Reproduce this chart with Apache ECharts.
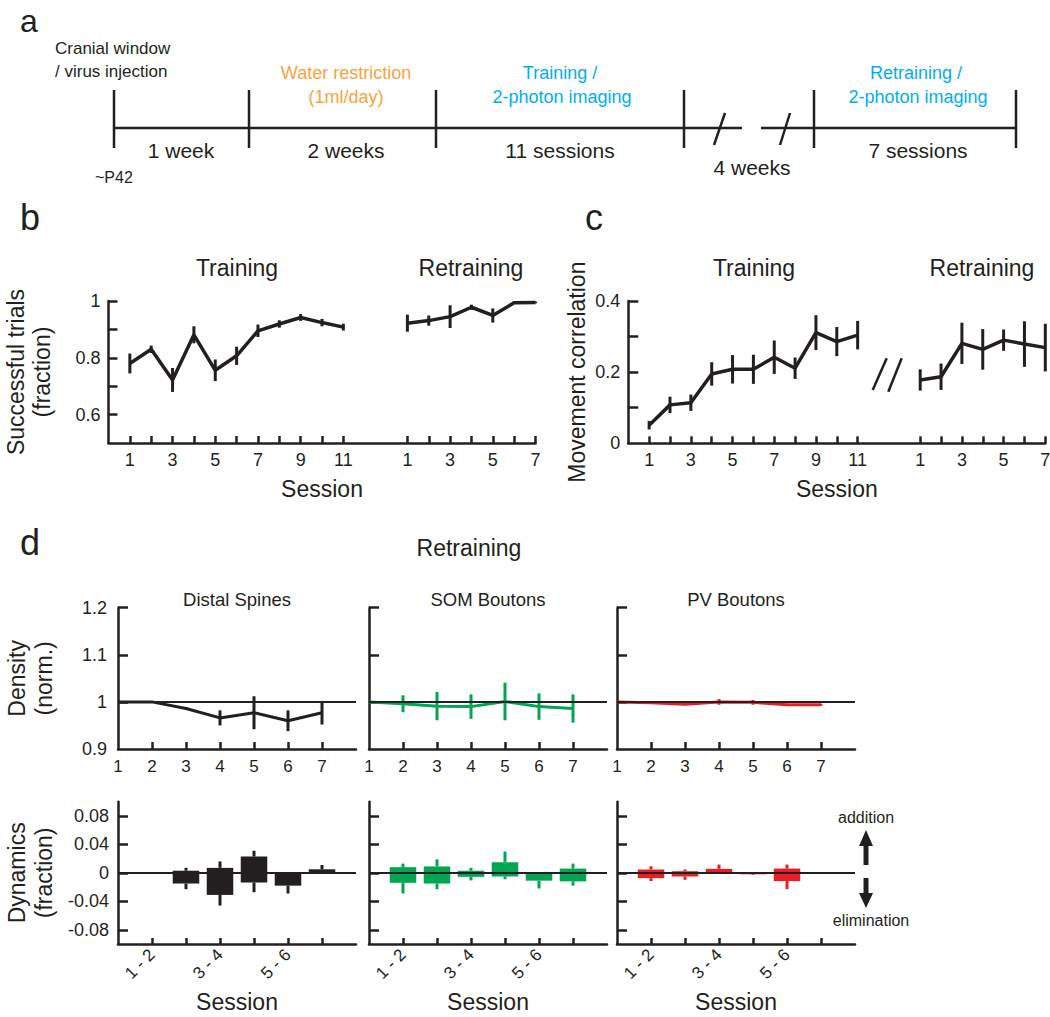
<!DOCTYPE html>
<html><head><meta charset="utf-8">
<script src="https://cdn.jsdelivr.net/npm/echarts@6/dist/echarts.min.js"></script>
<style>html,body{margin:0;padding:0;background:#fff}#c{width:1050px;height:1017px}</style>
</head><body><div id="c"></div><script>
// ---------------- DATA ----------------
const trainSessions = [1,2,3,4,5,6,7,8,9,10,11];
const retrainSessions = [1,2,3,4,5,6,7];
const trainTickLabels = [1,3,5,7,9,11];
const retrainTickLabels = [1,3,5,7];

const successTrain    = [0.780,0.830,0.722,0.881,0.756,0.807,0.895,0.919,0.942,0.924,0.908];
const successTrainErr = [0.035,0.013,0.042,0.030,0.038,0.032,0.022,0.013,0.012,0.013,0.012];
const successRetrain    = [0.922,0.931,0.945,0.978,0.949,0.994,0.995];
const successRetrainErr = [0.030,0.018,0.040,0.009,0.025,0.004,0.003];

const corrTrain    = [0.051,0.108,0.114,0.195,0.208,0.208,0.242,0.211,0.311,0.286,0.304];
const corrTrainErr = [0.012,0.023,0.023,0.033,0.040,0.041,0.047,0.030,0.049,0.041,0.040];
const corrRetrain    = [0.178,0.187,0.281,0.264,0.290,0.279,0.269];
const corrRetrainErr = [0.030,0.037,0.058,0.057,0.030,0.064,0.067];

const densitySessions = [1,2,3,4,5,6,7];
const distalDensity    = [1.000,1.000,0.986,0.966,0.977,0.960,0.977];
const distalDensityErr = [0,0,0.003,0.016,0.035,0.022,0.025];
const somDensity    = [1.000,0.996,0.991,0.990,1.001,0.990,0.986];
const somDensityErr = [0,0.018,0.030,0.026,0.040,0.028,0.030];
const pvDensity    = [1.000,0.998,0.995,1.000,0.999,0.994,0.994];
const pvDensityErr = [0,0.002,0.002,0.006,0.005,0.002,0.002];

// transitions: bar drawn at the later session of each pair
const transitionEnd = [2,3,4,5,6,7];
const transitionLabelAt = [2,4,6];
const distalAdd     = [0,0.003,0.007,0.023,0.000,0.005];
const distalAddErr  = [0,0.004,0.009,0.008,0,0.006];
const distalElim    = [0,-0.015,-0.031,-0.0136,-0.018,-0.001];
const distalElimErr = [0,0.008,0.015,0.0136,0.011,0];
const somAdd     = [0.008,0.009,0.003,0.015,0,0.006];
const somAddErr  = [0.005,0.010,0.004,0.015,0,0.007];
const somElim    = [-0.014,-0.015,-0.0056,-0.005,-0.011,-0.012];
const somElimErr = [0.015,0.008,0.005,0.004,0.011,0.006];
const pvAdd     = [0.0047,0.0023,0.0056,0,0.006,0];
const pvAddErr  = [0.0046,0.0024,0.006,0,0.0056,0];
const pvElim    = [-0.0074,-0.0051,-0.0003,-0.002,-0.0116,0];
const pvElimErr = [0.0042,0.0047,0,0.001,0.0114,0];

const densityTicks = [0.9,1,1.1,1.2];
const dynamicsTicks = [-0.08,-0.04,0,0.04,0.08];
const subplotTitles = ['Distal Spines','SOM Boutons','PV Boutons'];
const stageDurations = ['1 week','2 weeks','11 sessions','4 weeks','7 sessions'];

// ---------------- STYLE ----------------
const FF = '"Liberation Sans", Arial, Helvetica, sans-serif';
const INK = '#231f20', GREEN = '#00a651', RED = '#ed1c24', ORANGE = '#f8a33c', BLUE = '#00aeef';
const RETRAIN_OFFSET = 13;   // gap of two empty slots between phases
const BAR_W = 0.78;

function errBar(color, width){
  return function(params, api){
    const x = api.value(0), y = api.value(1), e = api.value(2);
    if (!e) return null;
    const a = api.coord([x, y + e]), b = api.coord([x, y - e]);
    return {type:'line', shape:{x1:a[0],y1:a[1],x2:b[0],y2:b[1]}, style:{stroke:color,lineWidth:width}};
  };
}
function dynBar(color){
  return function(params, api){
    const x = api.value(0), add = api.value(1), addE = api.value(2), elim = api.value(3), elimE = api.value(4);
    const w = api.size([BAR_W, 0])[0];
    const top = api.coord([x, add]), bot = api.coord([x, elim]);
    const ch = [];
    if (bot[1]-top[1] > 0.2) ch.push({type:'rect', shape:{x:top[0]-w/2,y:top[1],width:w,height:bot[1]-top[1]}, style:{fill:color}});
    if (addE > 0){ const p = api.coord([x, add+addE]); ch.push({type:'line', shape:{x1:top[0],y1:top[1],x2:p[0],y2:p[1]}, style:{stroke:color,lineWidth:3}}); }
    if (elimE > 0){ const p = api.coord([x, elim-elimE]); ch.push({type:'line', shape:{x1:bot[0],y1:bot[1],x2:p[0],y2:p[1]}, style:{stroke:color,lineWidth:3}}); }
    return {type:'group', children:ch};
  };
}
function axisBase(){
  return {
    axisLine:{show:true,onZero:false,lineStyle:{color:INK,width:2.5}},
    axisTick:{show:true,inside:true,length:7,lineStyle:{color:INK,width:2.5}},
    axisLabel:{color:INK,fontFamily:FF,fontSize:18,margin:8},
    splitLine:{show:false},
    nameTextStyle:{color:INK,fontFamily:FF}
  };
}

// ---------------- LAYOUT ----------------
const dLefts = [118, 369, 617];
const grids = [
  {left:108.5, top:301, width:427, height:142},
  {left:628.3, top:301, width:417, height:142.3}
];
dLefts.forEach(l => grids.push({left:l, top:607.7, width:238, height:141.3}));
dLefts.forEach(l => grids.push({left:l, top:801.7, width:238, height:142.3}));
grids.forEach(g => { g.outerBoundsMode = 'none'; g.containLabel = false; });

const xAxes = [], yAxes = [];
const allSessionTicks = trainSessions.concat(retrainSessions.map(s => s + RETRAIN_OFFSET));
const allSessionLabels = trainTickLabels.concat(retrainTickLabels.map(s => s + RETRAIN_OFFSET));
const sessFmt = v => v > trainSessions.length ? String(v - RETRAIN_OFFSET) : String(v);

// panel b and c
[0,1].forEach(gi => {
  const xa = axisBase();
  Object.assign(xa, {type:'value', gridIndex:gi, min:0, max:20, interval:1,
    name:'Session', nameLocation:'middle', nameGap:34});
  xa.axisTick.customValues = allSessionTicks;
  xa.axisLabel.customValues = allSessionLabels;
  xa.axisLabel.formatter = sessFmt;
  xa.axisLabel.fontSize = 18;
  xa.nameTextStyle.fontSize = 23;
  xAxes.push(xa);
});
{
  const ya = axisBase();
  Object.assign(ya, {type:'value', gridIndex:0, min:0.5, max:1,
    name:'Successful trials\n(fraction)', nameLocation:'middle', nameRotate:90, nameGap:54});
  ya.axisTick.customValues = [0.6,0.7,0.8,0.9,1];
  ya.axisTick.length = 9;
  ya.axisLabel.customValues = [0.6,0.8,1];
  ya.axisLabel.formatter = v => String(v);
  ya.nameTextStyle.fontSize = 23; ya.nameTextStyle.lineHeight = 26;
  yAxes.push(ya);
}
{
  const ya = axisBase();
  Object.assign(ya, {type:'value', gridIndex:1, min:0, max:0.4,
    name:'Movement correlation', nameLocation:'middle', nameRotate:90, nameGap:40});
  ya.axisTick.customValues = [0.1,0.2,0.3,0.4];
  ya.axisTick.length = 10;
  ya.axisLabel.customValues = [0,0.2,0.4];
  ya.axisLabel.formatter = v => String(v);
  ya.nameTextStyle.fontSize = 23;
  yAxes.push(ya);
}
// density
[0,1,2].forEach(k => {
  const gi = 2 + k;
  const xa = axisBase();
  Object.assign(xa, {type:'value', gridIndex:gi, min:1, max:8, interval:1});
  xa.axisTick.customValues = densitySessions.slice(1);
  xa.axisLabel.customValues = densitySessions;
  xa.axisLabel.formatter = v => String(v);
  xa.axisLabel.fontSize = 17; xa.axisLabel.margin = 9;
  xAxes.push(xa);
  const ya = axisBase();
  Object.assign(ya, {type:'value', gridIndex:gi, min:0.9, max:1.2, interval:0.1});
  ya.axisTick.customValues = densityTicks.slice(1);
  ya.axisTick.length = 10;
  ya.axisLabel.customValues = densityTicks;
  ya.axisLabel.formatter = v => String(v);
  ya.axisLabel.margin = 11;
  if (k > 0) ya.axisLabel.show = false;
  else { ya.name = 'Density\n(norm.)'; ya.nameLocation = 'middle'; ya.nameRotate = 90; ya.nameGap = 61;
         ya.nameTextStyle.fontSize = 23; ya.nameTextStyle.lineHeight = 27; }
  yAxes.push(ya);
});
// dynamics
[0,1,2].forEach(k => {
  const gi = 5 + k;
  const xa = axisBase();
  Object.assign(xa, {type:'value', gridIndex:gi, min:1, max:8, interval:1,
    name:'Session', nameLocation:'middle', nameGap:46});
  xa.axisTick.customValues = transitionEnd;
  xa.axisTick.length = 6;
  xa.axisLabel.customValues = transitionLabelAt;
  xa.axisLabel.formatter = v => (v-1) + ' - ' + v;
  xa.axisLabel.rotate = 45; xa.axisLabel.fontSize = 17; xa.axisLabel.margin = 8;
  xa.nameTextStyle.fontSize = 23;
  xAxes.push(xa);
  const ya = axisBase();
  Object.assign(ya, {type:'value', gridIndex:gi, min:-0.1, max:0.1});
  ya.axisTick.customValues = dynamicsTicks;
  ya.axisTick.length = 10;
  ya.axisLabel.customValues = dynamicsTicks;
  ya.axisLabel.formatter = v => v === 0 ? '0' : v.toFixed(2);
  ya.axisLabel.margin = 9;
  if (k > 0) ya.axisLabel.show = false;
  else { ya.name = 'Dynamics\n(fraction)'; ya.nameLocation = 'middle'; ya.nameRotate = 90; ya.nameGap = 61;
         ya.nameTextStyle.fontSize = 23; ya.nameTextStyle.lineHeight = 27; }
  yAxes.push(ya);
});

// ---------------- SERIES ----------------
const series = [];
function lineSeries(gi, pts, color, width, z){
  return {type:'line', xAxisIndex:gi, yAxisIndex:gi, data:pts, symbol:'none', silent:true,
    lineStyle:{color:color, width:width}, z:z||3, animation:false};
}
function errSeries(gi, pts, color, width){
  return {type:'custom', xAxisIndex:gi, yAxisIndex:gi, data:pts, renderItem:errBar(color, width),
    encode:{x:0, y:1}, silent:true, z:4, animation:false};
}
function refSeries(gi, yVal, z){
  return {type:'line', xAxisIndex:gi, yAxisIndex:gi, data:[], z:z,
    markLine:{silent:true, symbol:'none', animation:false, label:{show:false},
      lineStyle:{color:INK, width:2, type:'solid'}, data:[{yAxis:yVal}]}};
}
// b
series.push(lineSeries(0, trainSessions.map((s,i)=>[s, successTrain[i]]), INK, 3.5));
series.push(lineSeries(0, retrainSessions.map((s,i)=>[s+RETRAIN_OFFSET, successRetrain[i]]), INK, 3.5));
series.push(errSeries(0, trainSessions.map((s,i)=>[s, successTrain[i], successTrainErr[i]]), INK, 3));
series.push(errSeries(0, retrainSessions.map((s,i)=>[s+RETRAIN_OFFSET, successRetrain[i], successRetrainErr[i]]), INK, 3));
// c
series.push(lineSeries(1, trainSessions.map((s,i)=>[s, corrTrain[i]]), INK, 3.5));
series.push(lineSeries(1, retrainSessions.map((s,i)=>[s+RETRAIN_OFFSET, corrRetrain[i]]), INK, 3.5));
series.push(errSeries(1, trainSessions.map((s,i)=>[s, corrTrain[i], corrTrainErr[i]]), INK, 3));
series.push(errSeries(1, retrainSessions.map((s,i)=>[s+RETRAIN_OFFSET, corrRetrain[i], corrRetrainErr[i]]), INK, 3));
// density
const dens = [[distalDensity,distalDensityErr,INK],[somDensity,somDensityErr,GREEN],[pvDensity,pvDensityErr,RED]];
dens.forEach((d,k) => {
  const gi = 2 + k;
  series.push(refSeries(gi, 1, 1));
  series.push(lineSeries(gi, densitySessions.map((s,i)=>[s, d[0][i]]), d[2], 3, 3));
  series.push(errSeries(gi, densitySessions.map((s,i)=>[s, d[0][i], d[1][i]]), d[2], 3));
});
// dynamics
const dyn = [[distalAdd,distalAddErr,distalElim,distalElimErr,INK],[somAdd,somAddErr,somElim,somElimErr,GREEN],[pvAdd,pvAddErr,pvElim,pvElimErr,RED]];
dyn.forEach((d,k) => {
  const gi = 5 + k;
  series.push({type:'custom', xAxisIndex:gi, yAxisIndex:gi, renderItem:dynBar(d[4]), silent:true, z:2, animation:false,
    encode:{x:0, y:[1,3]},
    data: transitionEnd.map((t,i)=>[t, d[0][i], d[1][i], d[2][i], d[3][i]])});
  series.push(refSeries(gi, 0, 5));
});

// ---------------- GRAPHIC (labels, schematic) ----------------
const g = [];
function txt(x, y, text, size, color, align){
  g.push({type:'text', x:x, y:y, silent:true,
    style:{text:text, fontSize:size, fontFamily:FF, fill:color||INK, align:align||'center', verticalAlign:'middle'}});
}
function ln(x1,y1,x2,y2,w,color){
  g.push({type:'line', silent:true, shape:{x1:x1,y1:y1,x2:x2,y2:y2}, style:{stroke:color||INK, lineWidth:w||2.5}});
}
// panel letters
txt(20, 21, 'a', 32, INK, 'left');
txt(20, 217, 'b', 36, INK, 'left');
txt(585, 217, 'c', 36, INK, 'left');
txt(20, 542, 'd', 36, INK, 'left');
// timeline
const tlTicks = [114, 249, 436, 684, 814, 1016];
tlTicks.forEach(x => ln(x, 90, x, 148, 2.5));
ln(114, 128, 742, 128, 2.5);
ln(761, 128, 1016, 128, 2.5);
ln(714, 145, 725, 113, 2.5);
ln(780, 145, 790, 113, 2.5);
txt(55, 48, 'Cranial window', 17, INK, 'left');
txt(55, 71, '/ virus injection', 17, INK, 'left');
txt(346, 73, 'Water restriction', 18, ORANGE);
txt(346, 97, '(1ml/day)', 18, ORANGE);
txt(560, 73, 'Training /', 18, BLUE);
txt(562, 97, '2-photon imaging', 18, BLUE);
txt(916, 73, 'Retraining /', 18, BLUE);
txt(918, 97, '2-photon imaging', 18, BLUE);
txt(181, 150, stageDurations[0], 21);
txt(346, 150, stageDurations[1], 21);
txt(560, 150, stageDurations[2], 21);
txt(752, 167, stageDurations[3], 21);
txt(918, 150, stageDurations[4], 21);
txt(95, 177, '~P42', 16, INK, 'left');
// panel b/c titles
txt(237, 268, 'Training', 23);
txt(471, 268, 'Retraining', 23);
txt(754, 268, 'Training', 23);
txt(982, 268, 'Retraining', 23);
// break marks in c
ln(872.7, 390, 886.7, 358.3, 2.5);
ln(888.3, 391.7, 901.7, 358.3, 2.5);
// panel d titles
txt(469, 548, 'Retraining', 23);
txt(237, 599, subplotTitles[0], 18.5);
txt(488, 599, subplotTitles[1], 18.5);
txt(736, 599, subplotTitles[2], 18.5);
// addition / elimination arrows
txt(866, 817, 'addition', 16);
txt(871, 920, 'elimination', 16);
ln(866, 865, 866, 843, 5);
g.push({type:'polygon', silent:true, shape:{points:[[859,846],[873,846],[866,830]]}, style:{fill:INK}});
ln(866, 878, 866, 895, 5);
g.push({type:'polygon', silent:true, shape:{points:[[859,893],[873,893],[866,908]]}, style:{fill:INK}});

const chart = echarts.init(document.getElementById('c'), null, {renderer:'svg'});
chart.setOption({
  animation:false,
  backgroundColor:'#ffffff',
  textStyle:{fontFamily:FF, color:INK},
  grid:grids, xAxis:xAxes, yAxis:yAxes, series:series, graphic:g
});
</script></body></html>
